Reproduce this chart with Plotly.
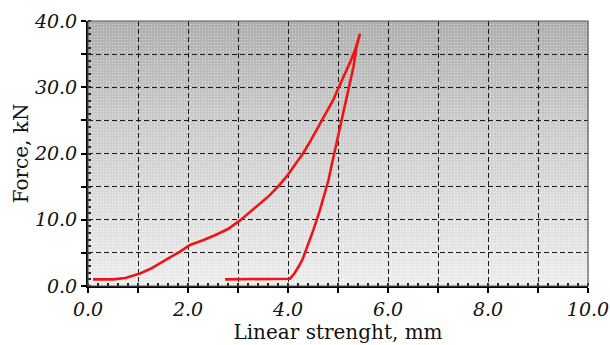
import base64
import plotly.graph_objects as go

# Load/unload path of the specimen: displacement (mm) vs force (kN)
displacement_mm = [0.10, 0.50, 0.75, 1.04, 1.25, 1.51, 1.70, 1.84, 2.04, 2.30,
                   2.55, 2.80, 3.04, 3.25, 3.44, 3.62, 3.80, 3.97, 4.15, 4.30,
                   4.45, 4.60, 4.75, 4.90, 5.04, 5.15, 5.25, 5.35, 5.44,
                   5.37, 5.31, 5.22, 5.12, 5.04, 4.94, 4.88, 4.81, 4.72, 4.64,
                   4.51, 4.44, 4.37, 4.29, 4.21, 4.12, 4.04, 2.74]
force_kn = [1.0, 1.0, 1.2, 1.9, 2.6, 3.7, 4.6, 5.2, 6.2, 6.9,
            7.7, 8.6, 9.9, 11.2, 12.4, 13.6, 15.0, 16.5, 18.4, 20.0,
            21.9, 23.9, 25.9, 28.0, 30.4, 32.2, 33.9, 35.8, 38.1,
            36.1, 33.1, 30.1, 26.6, 24.0, 21.0, 18.5, 16.0, 13.5, 11.5,
            8.5, 7.0, 5.4, 4.0, 2.9, 1.8, 1.1, 1.0]

x_tickvals = [0, 1, 2, 3, 4, 5, 6, 7, 8, 9, 10]
x_ticktext = ["0.0", "", "2.0", "", "4.0", "", "6.0", "", "8.0", "", "10.0"]
y_tickvals = [0, 5, 10, 15, 20, 25, 30, 35, 40]
y_ticktext = ["0.0", "", "10.0", "", "20.0", "", "30.0", "", "40.0"]

# Stippled grey gradient backdrop for the plotting area
svg = """<svg xmlns='http://www.w3.org/2000/svg' width='500' height='265'>
<defs>
<linearGradient id='g' x1='0' y1='0' x2='0' y2='1'>
<stop offset='0' stop-color='#b0b0b0'/>
<stop offset='0.35' stop-color='#cbcbcb'/>
<stop offset='0.7' stop-color='#e0e0e0'/>
<stop offset='1' stop-color='#f0f0f0'/>
</linearGradient>
<pattern id='d' width='3' height='3' patternUnits='userSpaceOnUse'>
<rect x='0' y='0' width='1' height='1' fill='#ffffff' fill-opacity='0.45'/>
<rect x='1.5' y='1.5' width='1' height='1' fill='#707070' fill-opacity='0.22'/>
</pattern>
</defs>
<rect width='500' height='265' fill='url(#g)'/>
<rect width='500' height='265' fill='url(#d)'/>
</svg>"""
bg_src = "data:image/svg+xml;base64," + base64.b64encode(svg.encode()).decode()

fig = go.Figure()
fig.add_trace(go.Scatter(
    x=displacement_mm, y=force_kn, mode="lines",
    line=dict(color="#f01414", width=2.6),
    showlegend=False, hoverinfo="skip",
))

tick_font = dict(family="DejaVu Serif", size=19, color="#111111", style="italic")
title_font = dict(family="DejaVu Serif", size=20, color="#111111")

fig.update_layout(
    width=610, height=345,
    margin=dict(l=88, r=22, t=21, b=59, autoexpand=False),
    paper_bgcolor="white",
    plot_bgcolor="#d8d8d8",
    images=[dict(source=bg_src, xref="x", yref="y", x=0, y=40,
                 sizex=10, sizey=40, sizing="stretch", layer="below")],
    shapes=[dict(type="rect", xref="x domain", yref="y domain",
                 x0=0, x1=1, y0=0, y1=1,
                 line=dict(color="#555555", width=1.2), layer="above")],
)

fig.update_xaxes(
    range=[0, 10], tickvals=x_tickvals, ticktext=x_ticktext,
    showgrid=True, gridcolor="#1a1a1a", gridwidth=1, griddash="5px,3px",
    zeroline=False, showline=True, linecolor="black", linewidth=2,
    ticks="outside", ticklen=5, tickwidth=1.5, tickcolor="black",
    minor=dict(dtick=0.2, ticks="inside", ticklen=3, tickcolor="#222222", showgrid=False),
    tickfont=tick_font, automargin=False,
    title=dict(text="Linear strenght, mm", font=title_font, standoff=2),
)
fig.update_yaxes(
    range=[0, 40], tickvals=y_tickvals, ticktext=y_ticktext,
    showgrid=True, gridcolor="#1a1a1a", gridwidth=1, griddash="5px,3px",
    zeroline=False, showline=True, linecolor="black", linewidth=2,
    ticks="outside", ticklen=5, tickwidth=1.5, tickcolor="black",
    minor=dict(dtick=1, ticks="inside", ticklen=3, tickcolor="#222222", showgrid=False),
    tickfont=tick_font, automargin=False,
    title=dict(text="Force, kN", font=title_font, standoff=0),
)

fig.write_html("out.html")
